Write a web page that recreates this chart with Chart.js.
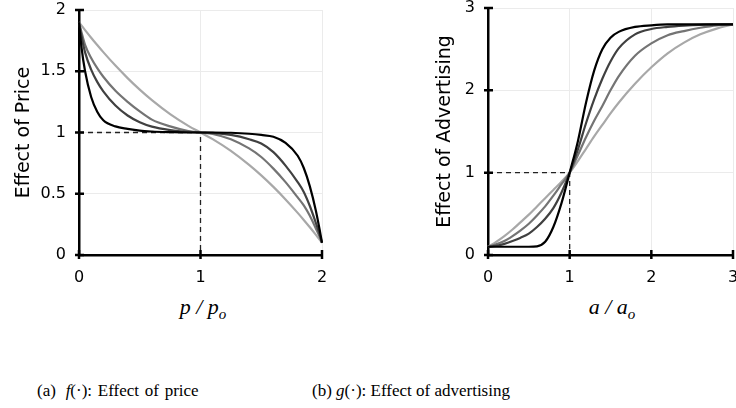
<!DOCTYPE html>
<html>
<head>
<meta charset="utf-8">
<script src="https://cdn.jsdelivr.net/npm/chart.js@4.4.0/dist/chart.umd.min.js"></script>
<style>
body { margin: 0; width: 736px; height: 408px; background: #fff; position: relative; overflow: hidden; }
.box { position: absolute; top: 0; }
.xt { position: absolute; font: italic 22px 'Liberation Serif', serif; transform: translateX(-50%); white-space: nowrap; color: #000; }
.xt sub { font-size: 15px; vertical-align: -5px; }
.cap { position: absolute; top: 381px; font: 17px 'Liberation Serif', serif; white-space: nowrap; color: #000; line-height: 20px; }
</style>
</head>
<body>
<div class="box" style="left:0"><canvas id="priceChart" width="340" height="290"></canvas></div>
<div class="box" style="left:400px"><canvas id="adChart" width="336" height="290"></canvas></div>
<div class="xt" style="left:203px; top:294px">p / p<sub>o</sub></div>
<div class="xt" style="left:612px; top:294px">a / a<sub>o</sub></div>
<div class="cap" style="left:37px; word-spacing:1.5px">(a)<span style="margin-left:4px"> </span><i>f</i>(·): Effect of price</div>
<div class="cap" style="left:312px">(b) <i>g</i>(·): Effect of advertising</div>
<script>
// price effect curves
const priceX     = [0, 0.02, 0.05, 0.1, 0.15, 0.2, 0.3, 0.4, 0.5, 0.6, 0.75, 0.9, 1, 1.1, 1.25, 1.4, 1.5, 1.6, 1.7, 1.8, 1.85, 1.9, 1.95, 1.98, 2];
const priceBlack = [1.9, 1.70, 1.50, 1.29, 1.17, 1.10, 1.05, 1.03, 1.015, 1.008, 1.003, 1.0, 1.0, 1.0, 0.998, 0.99, 0.98, 0.965, 0.915, 0.81, 0.71, 0.56, 0.36, 0.21, 0.1];
const priceDark  = [1.9, 1.79, 1.654, 1.513, 1.413, 1.336, 1.22, 1.139, 1.084, 1.048, 1.02, 1.005, 1.0, 0.997, 0.98, 0.945, 0.91, 0.84, 0.73, 0.595, 0.515, 0.40, 0.26, 0.17, 0.1];
const priceMid   = [1.9, 1.821, 1.715, 1.608, 1.525, 1.455, 1.34, 1.25, 1.172, 1.105, 1.05, 1.012, 1.0, 0.988, 0.945, 0.87, 0.80, 0.705, 0.595, 0.47, 0.405, 0.32, 0.215, 0.15, 0.1];
const priceLight = [1.9, 1.874, 1.836, 1.774, 1.714, 1.656, 1.546, 1.444, 1.35, 1.264, 1.15, 1.054, 1.0, 0.946, 0.85, 0.736, 0.65, 0.556, 0.454, 0.344, 0.286, 0.226, 0.164, 0.126, 0.1];

// advertising effect curves
const adX     = [0, 0.1, 0.2, 0.3, 0.4, 0.5, 0.6, 0.7, 0.8, 0.9, 1, 1.1, 1.2, 1.3, 1.4, 1.5, 1.6, 1.8, 2, 2.2, 2.4, 2.6, 2.8, 3];
const adBlack = [0.1, 0.1, 0.1, 0.1, 0.1, 0.1, 0.105, 0.16, 0.34, 0.63, 1.0, 1.38, 1.85, 2.24, 2.50, 2.64, 2.71, 2.77, 2.79, 2.8, 2.8, 2.8, 2.8, 2.8];
const adDark  = [0.1, 0.11, 0.135, 0.17, 0.21, 0.26, 0.34, 0.44, 0.57, 0.76, 1.0, 1.28, 1.60, 1.89, 2.14, 2.35, 2.51, 2.68, 2.745, 2.77, 2.785, 2.795, 2.8, 2.8];
const adMid   = [0.1, 0.13, 0.17, 0.23, 0.30, 0.38, 0.48, 0.59, 0.72, 0.86, 1.0, 1.21, 1.43, 1.63, 1.81, 2.0, 2.17, 2.42, 2.57, 2.67, 2.72, 2.76, 2.79, 2.8];
const adLight = [0.1, 0.16, 0.23, 0.31, 0.40, 0.49, 0.59, 0.69, 0.79, 0.89, 1.0, 1.14, 1.29, 1.44, 1.58, 1.72, 1.85, 2.08, 2.28, 2.45, 2.58, 2.68, 2.75, 2.8];

// dashed guide lines to the reference point (1, 1)
const guideX = [0, 1, 1];
const guideY = [1, 1, 0];

const shades = ['#000000', '#404040', '#747474', '#a8a8a8'];

function pts(xs, ys) {
  return xs.map((x, i) => ({ x: x, y: ys[i] }));
}

function curveSets(xs, series) {
  const sets = series.map((ys, i) => ({
    data: pts(xs, ys),
    borderColor: shades[i],
    borderWidth: 2.2,
    pointRadius: 0,
    cubicInterpolationMode: 'monotone',
    clip: false
  }));
  sets.push({
    data: pts(guideX, guideY),
    borderColor: '#222',
    borderWidth: 1.3,
    borderDash: [5, 4],
    pointRadius: 0,
    tension: 0
  });
  return sets;
}

// black tick marks that cross the axis lines
const crossTicks = {
  id: 'crossTicks',
  afterDatasetsDraw(chart) {
    const { ctx, chartArea } = chart;
    const sx = chart.scales.x, sy = chart.scales.y;
    ctx.save();
    ctx.strokeStyle = '#000';
    ctx.lineWidth = 2.5;
    ctx.beginPath();
    sx.ticks.forEach(t => {
      const px = sx.getPixelForValue(t.value);
      ctx.moveTo(px, chartArea.bottom - 5);
      ctx.lineTo(px, chartArea.bottom + 4);
    });
    sy.ticks.forEach(t => {
      const py = sy.getPixelForValue(t.value);
      ctx.moveTo(chartArea.left - 4, py);
      ctx.lineTo(chartArea.left + 5, py);
    });
    ctx.stroke();
    ctx.restore();
  }
};

const tickFont = { family: 'DejaVu Sans', size: 16 };

function makeChart(id, cfg) {
  return new Chart(id, {
    type: 'line',
    data: { datasets: cfg.datasets },
    options: {
      responsive: false,
      animation: false,
      devicePixelRatio: 1,
      layout: { padding: cfg.padding },
      plugins: { legend: { display: false }, tooltip: { enabled: false } },
      scales: {
        x: {
          type: 'linear',
          min: 0,
          max: cfg.xMax,
          ticks: { stepSize: 1, font: tickFont, color: '#000', padding: 13 },
          grid: { color: '#ebebeb', drawTicks: false },
          border: { color: '#000', width: 2.5 },
          afterFit: s => { s.height = 35; s.paddingLeft = 0; s.paddingRight = 0; }
        },
        y: {
          min: 0,
          max: cfg.yMax,
          ticks: { stepSize: cfg.yStep, font: tickFont, color: '#000', padding: 13, callback: v => String(v) },
          grid: { color: '#ebebeb', drawTicks: false },
          border: { color: '#000', width: 2.5 },
          title: {
            display: true,
            text: cfg.yTitle,
            color: '#000',
            font: { family: 'DejaVu Sans', size: 19 },
            padding: { top: cfg.titlePad, bottom: 0 }
          },
          afterFit: s => { s.width = cfg.yWidth; s.paddingTop = 0; s.paddingBottom = 0; }
        }
      }
    },
    plugins: [crossTicks]
  });
}

makeChart('priceChart', {
  datasets: curveSets(priceX, [priceBlack, priceDark, priceMid, priceLight]),
  xMax: 2, yMax: 2, yStep: 0.5,
  yTitle: 'Effect of Price',
  yWidth: 79, titlePad: 13,
  padding: { left: 0, top: 10, right: 18, bottom: 0 }
});

makeChart('adChart', {
  datasets: curveSets(adX, [adBlack, adDark, adMid, adLight]),
  xMax: 3, yMax: 3, yStep: 1,
  yTitle: 'Effect of Advertising',
  yWidth: 88, titlePad: 34,
  padding: { left: 0, top: 8, right: 3, bottom: 0 }
});
</script>
</body>
</html>
